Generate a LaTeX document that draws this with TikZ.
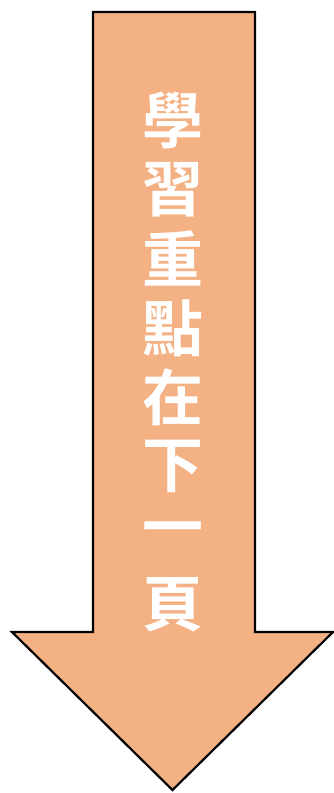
\documentclass[tikz,border=0pt]{standalone}
\usepackage{fontspec}
\newfontfamily\cjk{Noto Sans CJK TC Bold}
\definecolor{arrowfill}{HTML}{F4B183}

\begin{document}
\begin{tikzpicture}[x=1pt, y=-1pt,
    bigarrow/.style={draw=black, line width=2.2pt, fill=arrowfill, line join=miter},
    glyph/.style={text=white, font=\cjk\fontsize{61}{61}\selectfont, inner sep=0pt}]
    \useasboundingbox (0, 0) rectangle (334, 793);
    \draw[bigarrow] (93, 12) -- (255, 12) -- (255, 632) -- (333, 632)
      -- (172.5, 790) -- (12, 632) -- (93, 632) -- cycle;
    \foreach \ch [count=\i] in {學, 習, 重, 點, 在, 下, 一, 頁} {
      \node[glyph] (c\i) at (173, 120 + 69.3*\i - 69.3) {\ch};
    }
\end{tikzpicture}
\end{document}
